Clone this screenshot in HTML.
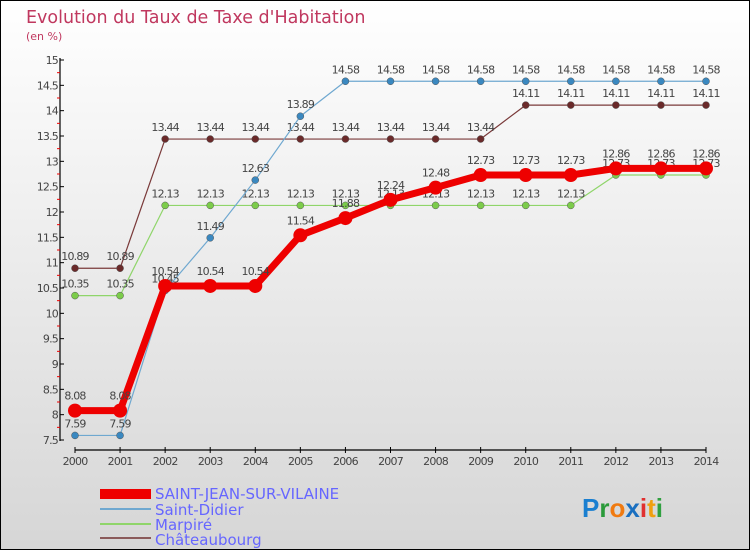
<!DOCTYPE html>
<html><head><meta charset="utf-8"><style>
body{margin:0;}
#c{width:750px;height:550px;position:relative;box-sizing:border-box;border:1px solid #000;background:linear-gradient(#ffffff,#d6d6d6);font-family:"DejaVu Sans","Liberation Sans",sans-serif;overflow:hidden}
</style></head><body>
<div id="c">
<svg id="s" width="750" height="550" style="position:absolute;left:-1px;top:-1px">
<text x="26" y="23" font-size="17.5" fill="#c0385f" font-family="DejaVu Sans,sans-serif">Evolution du Taux de Taxe d'Habitation</text>
<text x="26" y="40" font-size="11" fill="#c0385f">(en %)</text>
<g id="axes"></g><g id="series"></g>
<g>
<rect x="100" y="489" width="51" height="10" fill="#ee0000"/>
<text x="155" y="499" font-size="15" fill="#6666ff">SAINT-JEAN-SUR-VILAINE</text>
<rect x="100" y="508" width="51" height="2" fill="#6fa8d0"/>
<text x="155" y="515" font-size="15" fill="#6666ff">Saint-Didier</text>
<rect x="100" y="523" width="51" height="2" fill="#8fd56a"/>
<text x="155" y="530" font-size="15" fill="#6666ff">Marpiré</text>
<rect x="100" y="537" width="51" height="2" fill="#8a5a5a"/>
<text x="155" y="545" font-size="15" fill="#6666ff">Châteaubourg</text>
</g>
<text x="582" y="517" font-size="26" font-weight="bold" font-family="Liberation Sans,sans-serif"><tspan fill="#1a7fd0">P</tspan><tspan fill="#2a9a3a">r</tspan><tspan fill="#f07a10">o</tspan><tspan fill="#1a6fc0">x</tspan><tspan fill="#e03030">i</tspan><tspan fill="#f0a010">t</tspan><tspan fill="#30a040">i</tspan></text>
</svg>
</div>
<script>
const years=[2000,2001,2002,2003,2004,2005,2006,2007,2008,2009,2010,2011,2012,2013,2014];
const yTicks=[7.5,8,8.5,9,9.5,10,10.5,11,11.5,12,12.5,13,13.5,14,14.5,15];
const sjsv=[8.08,8.08,10.54,10.54,10.54,11.54,11.88,12.24,12.48,12.73,12.73,12.73,12.86,12.86,12.86];
const didier=[7.59,7.59,10.45,11.49,12.63,13.89,14.58,14.58,14.58,14.58,14.58,14.58,14.58,14.58,14.58];
const marpire=[10.35,10.35,12.13,12.13,12.13,12.13,12.13,12.13,12.13,12.13,12.13,12.13,12.73,12.73,12.73];
const chateau=[10.89,10.89,13.44,13.44,13.44,13.44,13.44,13.44,13.44,13.44,14.11,14.11,14.11,14.11,14.11];
const NS='http://www.w3.org/2000/svg';
const X=i=>75+i*(706-75)/(years.length-1);
const Y=v=>440-(v-7.5)*(380/7.5);
function mk(t,a,p){const e=document.createElementNS(NS,t);for(const k in a)e.setAttribute(k,a[k]);p.appendChild(e);return e;}
const ax=document.getElementById('axes');
let yl=mk('line',{x1:60,y1:58,x2:60,y2:441,stroke:'#000','stroke-width':1.2},ax);


let xl=mk('line',{x1:75,y1:450,x2:706,y2:450,stroke:'#000','stroke-width':1.2},ax);


yTicks.forEach((v,i)=>{
 mk('line',{x1:60,x2:64,y1:Y(v),y2:Y(v),stroke:'#000'},ax);
 if(i<yTicks.length-1)mk('line',{x1:57,x2:60,y1:Y(v+0.25),y2:Y(v+0.25),stroke:'#e00'},ax);
 const t=mk('text',{x:58,y:Y(v)+4,'font-size':11,'text-anchor':'end',fill:'#444','letter-spacing':'-0.8'},ax);
 t.textContent=String(v);
 
 
});
years.forEach((y,i)=>{
 mk('line',{x1:X(i),x2:X(i),y1:447,y2:453,stroke:'#000'},ax);
 const t=mk('text',{x:X(i),y:465,'font-size':11,'text-anchor':'middle',fill:'#444','letter-spacing':'-0.8'},ax);
 t.textContent=String(y);
 
 
});
const sg=document.getElementById('series');
function draw(vals,col,dot,w,r,name,lblOff){
 const g=mk('g',{},sg);
 
 
 const p=mk('polyline',{points:vals.map((v,i)=>X(i)+','+Y(v)).join(' '),fill:'none',stroke:col,'stroke-width':w,'stroke-linejoin':'round'},g);
 
 
 vals.forEach((v,i)=>{
  const c=mk('circle',{cx:X(i),cy:Y(v),r:r,fill:dot,stroke:w>3?dot:'#555','stroke-width':w>3?0:0.5},g);
  
  
  const t=mk('text',{x:X(i),y:Y(v)+lblOff(i),'font-size':11,'text-anchor':'middle',fill:'#444','letter-spacing':'-0.8'},g);
  t.textContent=v.toFixed(2).replace(/0$/,'').replace(/\.$/,'');
  
  
 });
}
draw(marpire,'#8fd56a','#7ccc4a',1.2,3.5,'marpire',()=> -8);
draw(chateau,'#7a3a3a','#6a2a2a',1.2,3.5,'chateaubourg',()=> -8);
draw(didier,'#6fa8d0','#3a88c0',1.2,3.5,'saint-didier',()=> -8);
draw(sjsv,'#ee0000','#ee0000',7,7,'saint-jean',()=> -11);
</script>
</body></html>
